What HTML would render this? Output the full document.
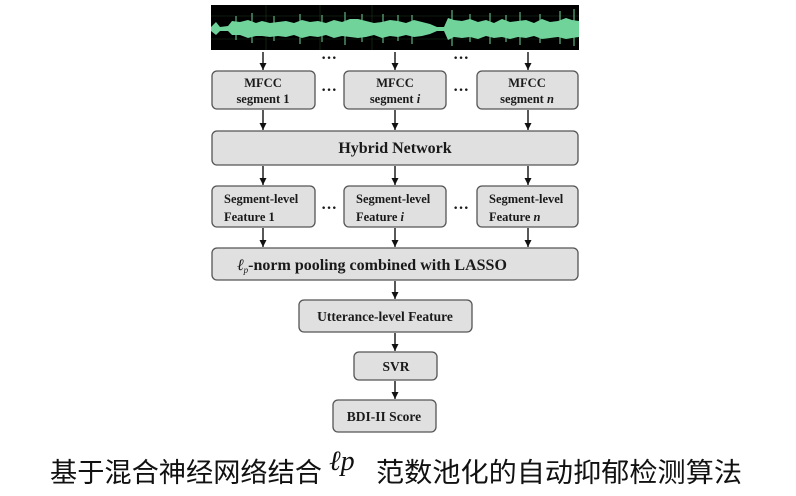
<!DOCTYPE html>
<html><head><meta charset="utf-8"><style>
html,body{margin:0;padding:0;background:#fff;}
svg{display:block;}
.b{fill:#e0e0e0;stroke:#555;stroke-width:1.3;}
.t{font-family:"Liberation Serif",serif;font-weight:bold;fill:#1a1a1a;}
</style></head><body>
<svg width="796" height="496" viewBox="0 0 796 496" xmlns="http://www.w3.org/2000/svg">
<defs><marker id="a" markerWidth="8" markerHeight="8" refX="7" refY="4" orient="auto" markerUnits="userSpaceOnUse">
<path d="M0,0.5 L7,4 L0,7.5 Z" fill="#111"/></marker></defs>
<!-- waveform -->
<rect x="211" y="5" width="368" height="45" fill="#000"/>
<g stroke="#1c3a1c" stroke-width="0.6"><line x1="211" y1="16" x2="579" y2="16"/><line x1="211" y1="39" x2="579" y2="39"/><line x1="266" y1="5" x2="266" y2="50"/><line x1="320" y1="5" x2="320" y2="50"/><line x1="372" y1="5" x2="372" y2="50"/></g>
<polygon fill="#6fd39a" points="211,27 216,22 220,27 228,26 232,21 240,22 248,20 256,23 262,21 270,23 278,22 286,21 294,23 302,20 310,22 318,21 326,23 334,20 342,22 350,19 358,19 366,21 374,23 382,22 390,20 398,21 406,23 414,20 422,22 430,24 437,27 444,27 448,18 454,20 462,21 470,19 478,22 486,20 494,23 502,19 510,22 518,21 526,20 534,23 542,19 550,22 558,21 566,18 572,20 579,21 579,37 572,38 566,39 558,37 550,38 542,39 534,36 526,38 518,37 510,39 502,37 494,38 486,36 478,39 470,37 462,38 454,37 448,40 444,31 437,31 430,34 422,36 414,37 406,35 398,37 390,36 382,38 374,35 366,37 358,38 350,37 342,36 334,38 326,35 318,37 310,36 302,38 294,35 286,37 278,36 270,37 262,36 256,36 248,38 240,35 232,35 228,31 220,31 216,35 211,31"/>
<g stroke="#6fd39a" stroke-width="1"><line x1="236" y1="16" x2="236" y2="40"/><line x1="252" y1="13" x2="252" y2="43"/><line x1="274" y1="16" x2="274" y2="41"/><line x1="300" y1="14" x2="300" y2="44"/><line x1="322" y1="15" x2="322" y2="42"/><line x1="345" y1="12" x2="345" y2="45"/><line x1="362" y1="14" x2="362" y2="42"/><line x1="383" y1="14" x2="383" y2="43"/><line x1="398" y1="15" x2="398" y2="41"/><line x1="412" y1="15" x2="412" y2="44"/><line x1="452" y1="10" x2="452" y2="46"/><line x1="470" y1="14" x2="470" y2="42"/><line x1="490" y1="13" x2="490" y2="44"/><line x1="506" y1="15" x2="506" y2="42"/><line x1="520" y1="12" x2="520" y2="45"/><line x1="540" y1="14" x2="540" y2="43"/><line x1="560" y1="11" x2="560" y2="44"/><line x1="574" y1="9" x2="574" y2="46"/></g>
<!-- arrows -->
<g stroke="#111" stroke-width="1.4" marker-end="url(#a)">
<line x1="263" y1="52" x2="263" y2="70"/><line x1="395" y1="52" x2="395" y2="70"/><line x1="528" y1="52" x2="528" y2="70"/>
<line x1="263" y1="110" x2="263" y2="130"/><line x1="395" y1="110" x2="395" y2="130"/><line x1="528" y1="110" x2="528" y2="130"/>
<line x1="263" y1="166" x2="263" y2="185"/><line x1="395" y1="166" x2="395" y2="185"/><line x1="528" y1="166" x2="528" y2="185"/>
<line x1="263" y1="228" x2="263" y2="247"/><line x1="395" y1="228" x2="395" y2="247"/><line x1="528" y1="228" x2="528" y2="247"/>
<line x1="395" y1="281" x2="395" y2="299"/>
<line x1="395" y1="333" x2="395" y2="351"/>
<line x1="395" y1="381" x2="395" y2="399"/>
</g>
<!-- dots -->
<g class="t" font-size="16" text-anchor="middle">
<text x="329" y="63">···</text><text x="461" y="63">···</text>
<text x="329" y="95">···</text><text x="461" y="95">···</text>
<text x="329" y="213">···</text><text x="461" y="213">···</text>
</g>
<!-- MFCC -->
<rect class="b" x="212" y="71" width="103" height="38" rx="5"/>
<rect class="b" x="344" y="71" width="102" height="38" rx="5"/>
<rect class="b" x="477" y="71" width="101" height="38" rx="5"/>
<g class="t" font-size="12.5" text-anchor="middle">
<text x="263" y="87">MFCC</text><text x="263" y="103">segment 1</text>
<text x="395" y="87">MFCC</text><text x="395" y="103">segment <tspan font-style="italic">i</tspan></text>
<text x="527" y="87">MFCC</text><text x="527" y="103">segment <tspan font-style="italic">n</tspan></text>
</g>
<rect class="b" x="212" y="131" width="366" height="34" rx="5"/>
<text class="t" x="395" y="153" font-size="16" text-anchor="middle">Hybrid Network</text>
<rect class="b" x="212" y="186" width="103" height="41" rx="5"/>
<rect class="b" x="344" y="186" width="102" height="41" rx="5"/>
<rect class="b" x="477" y="186" width="101" height="41" rx="5"/>
<g class="t" font-size="12.5">
<text x="224" y="203">Segment-level</text><text x="224" y="221">Feature 1</text>
<text x="356" y="203">Segment-level</text><text x="356" y="221">Feature <tspan font-style="italic">i</tspan></text>
<text x="489" y="203">Segment-level</text><text x="489" y="221">Feature <tspan font-style="italic">n</tspan></text>
</g>
<rect class="b" x="212" y="248" width="366" height="32" rx="5"/>
<text class="t" x="237" y="270" font-size="16"><tspan font-weight="normal" font-style="italic">ℓ</tspan><tspan font-weight="normal" font-style="italic" font-size="9" dy="3">p</tspan><tspan dy="-3">-norm pooling combined with LASSO</tspan></text>
<rect class="b" x="299" y="300" width="173" height="32" rx="5"/>
<text class="t" x="385" y="321" font-size="13.5" text-anchor="middle">Utterance-level Feature</text>
<rect class="b" x="354" y="352" width="83" height="28" rx="5"/>
<text class="t" x="396" y="371" font-size="13.5" text-anchor="middle">SVR</text>
<rect class="b" x="333" y="400" width="103" height="32" rx="5"/>
<text class="t" x="384" y="421" font-size="13.5" text-anchor="middle">BDI-II Score</text>
<!-- caption -->
<text x="50" y="482" font-family="'Liberation Sans','Noto Sans CJK SC',sans-serif" font-size="27" fill="#111" textLength="272" lengthAdjust="spacingAndGlyphs">基于混合神经网络结合</text>
<text x="329" y="470" font-family="'Liberation Serif',serif" font-style="italic" font-size="28" fill="#111">ℓp</text>
<text x="376" y="482" font-family="'Liberation Sans','Noto Sans CJK SC',sans-serif" font-size="27" fill="#111" textLength="366" lengthAdjust="spacingAndGlyphs">范数池化的自动抑郁检测算法</text>
</svg>
</body></html>
